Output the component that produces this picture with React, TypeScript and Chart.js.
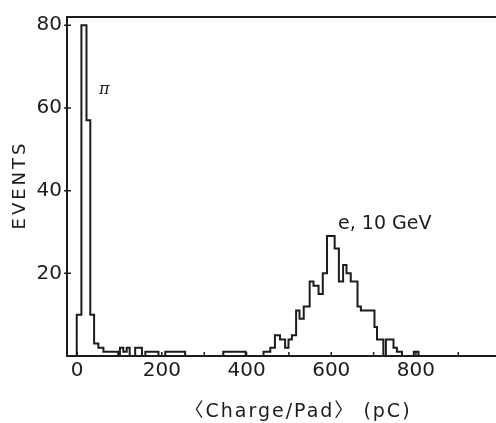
import React, { useEffect, useRef } from "react";
import { Chart, registerables } from "chart.js";

Chart.register(...registerables);

// ---- data (pC, events) ----
const binEdges = [
  -1, 10, 22, 31, 40, 50, 62, 97, 101, 109, 117, 124, 137, 153, 161, 192, 208, 255, 345, 398,
  440, 456, 467, 479, 491, 499, 507, 517, 525, 535, 549, 558, 570, 580, 590, 608, 618, 628, 636,
  646, 662, 670, 702, 708, 723, 729, 747, 755, 767, 795, 806,
];
const binCounts = [
  10, 80, 57, 10, 3, 2, 1, 0, 2, 1, 2, 0, 2, 0, 1, 0, 1, 0, 1, 0,
  1, 2, 5, 4, 2, 4, 5, 11, 9, 12, 18, 17, 15, 20, 29, 26, 18, 22, 20,
  18, 12, 11, 7, 4, 0, 4, 2, 1, 0, 1, 0,
];

const xRange = [-24, 989];
const yRange = [0, 82];
const xTickLabels = [0, 200, 400, 600, 800];
const yTickLabels = [20, 40, 60, 80];
const xTickMarks = [0, 100, 200, 300, 400, 500, 600, 700, 800, 900];
const yTickMarks = [20, 40, 60, 80];

const xTitle = "\u3008Charge/Pad\u3009 (pC)";
const yTitle = "EVENTS";
const piLabel = "\u03C0";
const piPos = [64, 64.5];
const eLabel = "e, 10 GeV";
const ePos = [616, 30.6];

const INK = "#1c1c1c";
const FONT = "'DejaVu Sans', sans-serif";
const TITLE_FONT = "'DejaVu Sans', 'Noto Sans CJK JP', sans-serif";

const decorPlugin = {
  id: "decor",
  afterDraw(chart: any) {
    const { ctx, chartArea } = chart;
    const xs = chart.scales.x;
    const ys = chart.scales.y;
    ctx.save();
    ctx.strokeStyle = INK;
    ctx.fillStyle = INK;
    // top frame line
    ctx.lineWidth = 2;
    ctx.beginPath();
    ctx.moveTo(chartArea.left - 1, chartArea.top);
    ctx.lineTo(chartArea.right, chartArea.top);
    ctx.stroke();
    // inward tick marks
    ctx.lineWidth = 1.5;
    ctx.beginPath();
    for (const v of xTickMarks) {
      const px = xs.getPixelForValue(v);
      ctx.moveTo(px, chartArea.bottom);
      ctx.lineTo(px, chartArea.bottom - 4);
    }
    for (const v of yTickMarks) {
      const py = ys.getPixelForValue(v);
      ctx.moveTo(chartArea.left - 3, py);
      ctx.lineTo(chartArea.left + 4, py);
    }
    ctx.stroke();
    // annotations
    ctx.font = "italic 16px 'DejaVu Serif', serif";
    ctx.textAlign = "center";
    ctx.textBaseline = "middle";
    ctx.fillText(piLabel, xs.getPixelForValue(piPos[0]), ys.getPixelForValue(piPos[1]));
    ctx.font = "19px " + FONT;
    ctx.textAlign = "left";
    ctx.textBaseline = "alphabetic";
    ctx.fillText(eLabel, xs.getPixelForValue(ePos[0]), ys.getPixelForValue(ePos[1]));
    // axis titles
    (ctx as any).letterSpacing = "2px";
    ctx.font = "19px " + TITLE_FONT;
    ctx.textAlign = "center";
    ctx.fillText(xTitle, 298, 417);
    ctx.translate(25, 185);
    ctx.rotate(-Math.PI / 2);
    (ctx as any).letterSpacing = "3px";
    ctx.font = "18px " + FONT;
    ctx.fillText(yTitle, 0, 0);
    ctx.restore();
  },
};

export default function App() {
  const ref = useRef<HTMLCanvasElement | null>(null);

  useEffect(() => {
    if (!ref.current) return;
    const points = [{ x: binEdges[0], y: 0 }].concat(
      binEdges.map((x, i) => ({ x, y: binCounts[i] }))
    );
    const chart = new Chart(ref.current, {
      type: "line",
      data: {
        datasets: [
          {
            data: points,
            stepped: true,
            borderColor: INK,
            borderWidth: 2,
            pointRadius: 0,
            fill: false,
            tension: 0,
          },
        ],
      },
      plugins: [decorPlugin],
      options: {
        responsive: false,
        devicePixelRatio: 1,
        animation: false,
        layout: { padding: { top: 8, left: 0, right: 0, bottom: 0 }, autoPadding: false },
        plugins: { legend: { display: false }, tooltip: { enabled: false } },
        scales: {
          x: {
            type: "linear",
            min: xRange[0],
            max: xRange[1],
            afterBuildTicks: (s: any) => {
              s.ticks = xTickLabels.map((value) => ({ value }));
            },
            afterFit: (s: any) => {
              s.height = 67;
            },
            grid: { display: false, drawTicks: false },
            border: { display: true, color: INK, width: 2 },
            ticks: {
              color: INK,
              font: { family: FONT, size: 20 },
              padding: 3,
              maxRotation: 0,
              autoSkip: false,
            },
          },
          y: {
            type: "linear",
            min: yRange[0],
            max: yRange[1],
            afterBuildTicks: (s: any) => {
              s.ticks = yTickLabels.map((value) => ({ value }));
            },
            afterFit: (s: any) => {
              s.width = 67;
            },
            grid: { display: false, drawTicks: false },
            border: { display: true, color: INK, width: 2 },
            ticks: {
              color: INK,
              font: { family: FONT, size: 20 },
              padding: 5,
              autoSkip: false,
            },
          },
        },
      },
    } as any);
    return () => chart.destroy();
  }, []);

  return (
    <div
      style={{
        position: "fixed",
        left: 0,
        top: 0,
        width: 496,
        height: 423,
        overflow: "hidden",
        background: "#fff",
      }}
    >
      <canvas ref={ref} width={496} height={423} style={{ display: "block", width: 496, height: 423 }} />
    </div>
  );
}
